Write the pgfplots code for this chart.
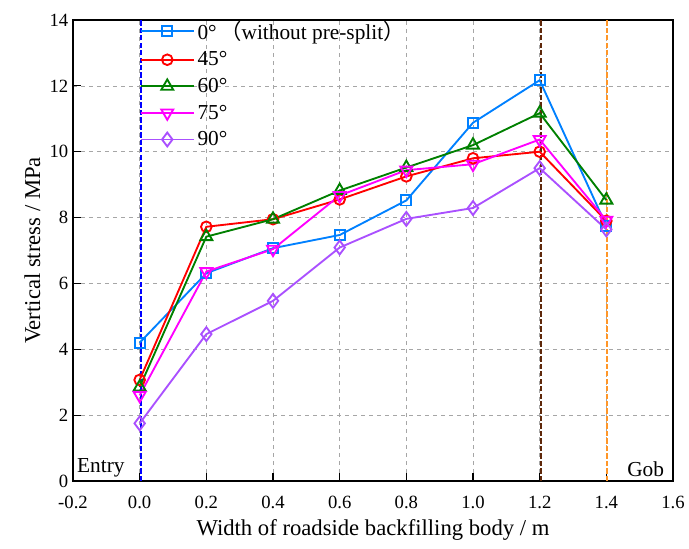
\documentclass[border=0pt]{standalone}
\usepackage{fontspec}
\setmainfont{Liberation Serif}
\newfontfamily\cjk{Noto Sans CJK SC}
\usepackage{pgfplots}
\pgfplotsset{compat=1.18}

\definecolor{cZero}{RGB}{0,128,255}
\definecolor{cFortyFive}{RGB}{255,0,0}
\definecolor{cSixty}{RGB}{0,128,0}
\definecolor{cSeventyFive}{RGB}{255,0,255}
\definecolor{cNinety}{RGB}{170,80,255}
\definecolor{cEntry}{RGB}{0,0,255}
\definecolor{cBrown}{RGB}{95,40,10}
\definecolor{cOrange}{RGB}{255,150,40}

\begin{document}
\begin{tikzpicture}
\begin{axis}[
  scale only axis,
  width=450pt, height=345.75pt,
  xmin=-0.2, xmax=1.6, ymin=0, ymax=14,
  xtick={-0.2,0,0.2,0.4,0.6,0.8,1.0,1.2,1.4,1.6},
  ytick={0,2,4,6,8,10,12,14},
  xticklabel style={yshift=-8pt, /pgf/number format/.cd,fixed,fixed zerofill,precision=1},
  /pgf/number format/assume math mode=true,
  tick label style={font=\fontsize{14pt}{16pt}\selectfont},
  label style={font=\fontsize{17pt}{19pt}\selectfont},
  xlabel={Width of roadside backfilling body / m},
  ylabel={Vertical stress / MPa},
  xlabel style={yshift=-1pt},
  tick align=inside,
  xtick pos=bottom, ytick pos=left,
  major tick length=6pt,
  tick style={line width=0.9pt, black},
  axis line style={line width=1.1pt},
  grid=major,
  major grid style={dashed, gray!70, line width=0.5pt},
  every axis plot/.append style={line width=1.4pt},
  legend cell align=left,
  legend style={draw=none, fill=none, at={(0.104,1.01)}, anchor=north west,
    font=\fontsize{16pt}{18pt}\selectfont, row sep=3.8pt,
    /tikz/every even column/.append style={column sep=2pt}},
  legend image code/.code={
    \draw[mark repeat=2,mark phase=2] plot coordinates {(0pt,0pt) (20pt,0pt) (40pt,0pt)};
  },
]
% boundaries: entry side, peak position, gob side
\addplot[draw=cEntry, dash pattern=on 4pt off 1.6pt, line width=1.5pt, no marks, forget plot]
  coordinates {(0.004,0) (0.004,14)};
\addplot[draw=cBrown, dash pattern=on 4pt off 1.6pt, line width=1.6pt, no marks, forget plot]
  coordinates {(1.203,0) (1.203,14)};
\addplot[draw=cOrange, dash pattern=on 4pt off 1.6pt, line width=1.6pt, no marks, forget plot]
  coordinates {(1.403,0) (1.403,14)};

% 0 degree (without pre-split)
\addplot[color=cZero, mark=square, mark size=3.8pt,
  mark options={solid, fill=white, line width=1.4pt}] coordinates {
  (0,4.2) (0.2,6.31) (0.4,7.07) (0.6,7.47) (0.8,8.52) (1.0,10.88) (1.2,12.17) (1.4,7.75)};
\addlegendentry{0°\,{\cjk （}without pre-split{\cjk ）}}
% 45 degree
\addplot[color=cFortyFive, mark=o, mark size=4pt,
  mark options={solid, fill=white, line width=1.4pt}] coordinates {
  (0,3.07) (0.2,7.72) (0.4,7.95) (0.6,8.55) (0.8,9.25) (1.0,9.8) (1.2,10.0) (1.4,7.9)};
\addlegendentry{45°}
% 60 degree
\addplot[color=cSixty, mark=triangle, mark size=5.2pt,
  mark options={solid, fill=white, line width=1.4pt}] coordinates {
  (0,2.85) (0.2,7.42) (0.4,7.95) (0.6,8.82) (0.8,9.52) (1.0,10.2) (1.2,11.17) (1.4,8.53)};
\addlegendentry{60°}
% 75 degree
\addplot[color=cSeventyFive, mark=triangle, mark size=5.2pt,
  mark options={solid, fill=white, line width=1.4pt, rotate=180}] coordinates {
  (0,2.6) (0.2,6.36) (0.4,7.04) (0.6,8.67) (0.8,9.44) (1.0,9.62) (1.2,10.37) (1.4,7.92)};
\addlegendentry{75°}
% 90 degree
\addplot[color=cNinety, mark=diamond, mark size=5.2pt,
  mark options={solid, fill=white, line width=1.4pt}] coordinates {
  (0,1.75) (0.2,4.46) (0.4,5.47) (0.6,7.09) (0.8,7.96) (1.0,8.29) (1.2,9.5) (1.4,7.64)};
\addlegendentry{90°}

\node[anchor=south west, font=\fontsize{16pt}{18pt}\selectfont, inner sep=2pt]
  at (rel axis cs:0.002,0.003) {Entry};
\node[anchor=south east, font=\fontsize{16pt}{18pt}\selectfont, inner sep=2pt]
  at (rel axis cs:0.99,0.003) {Gob};
\end{axis}
\pgfresetboundingbox
\path (-54.75pt,-51pt) rectangle (462pt,360.75pt);
\end{tikzpicture}
\end{document}
